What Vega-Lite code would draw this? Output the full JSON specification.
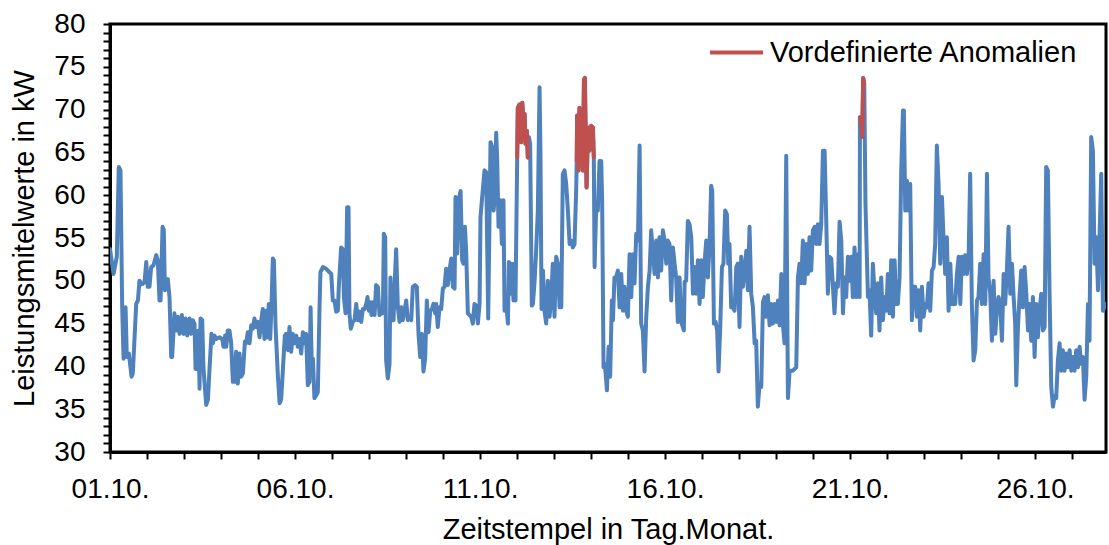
{
  "$schema": "https://vega.github.io/schema/vega-lite/v6.json",
  "width": 996,
  "height": 428,
  "autosize": {"type": "none"},
  "padding": {"left": 110, "top": 24, "right": 3, "bottom": 93},
  "background": "white",
  "config": {
    "view": {"stroke": "black", "strokeWidth": 3},
    "font": "Liberation Sans",
    "axis": {"grid": false, "domainColor": "black", "domainWidth": 3, "tickColor": "black", "tickWidth": 2, "tickSize": 7, "labelColor": "black", "titleColor": "black", "labelFont": "Liberation Sans", "titleFont": "Liberation Sans", "titleFontWeight": "normal"}
  },
  "datasets": {
    "messwerte": [
      {"Stunde":0,"kW":53.7},{"Stunde":2.3,"kW":50.8},{"Stunde":4.4,"kW":52.8},{"Stunde":5.7,"kW":63.3},{"Stunde":6.8,"kW":62.9},{"Stunde":7.9,"kW":46.9},{"Stunde":8.8,"kW":40.9},{"Stunde":10.1,"kW":46.9},{"Stunde":10.9,"kW":41.1},{"Stunde":12.2,"kW":41.5},{"Stunde":14.0,"kW":38.8},{"Stunde":14.8,"kW":39.2},{"Stunde":17.0,"kW":47.3},{"Stunde":18.1,"kW":47.7},{"Stunde":19.1,"kW":50.0},{"Stunde":20.9,"kW":49.6},{"Stunde":22.4,"kW":49.8},{"Stunde":23.5,"kW":52.2},{"Stunde":24.5,"kW":49.3},{"Stunde":25.6,"kW":49.3},{"Stunde":26.7,"kW":51.6},{"Stunde":28.2,"kW":51.8},{"Stunde":30.0,"kW":53.0},{"Stunde":31.0,"kW":52.4},{"Stunde":32.1,"kW":47.7},{"Stunde":32.8,"kW":47.7},{"Stunde":34.1,"kW":56.3},{"Stunde":34.9,"kW":55.9},{"Stunde":35.6,"kW":48.9},{"Stunde":36.4,"kW":49.3},{"Stunde":37.5,"kW":50.2},{"Stunde":38.6,"kW":48.1},{"Stunde":39.7,"kW":41.1},{"Stunde":40.3,"kW":41.1},{"Stunde":41.8,"kW":46.2},{"Stunde":42.9,"kW":44.2},{"Stunde":44.0,"kW":45.8},{"Stunde":45.1,"kW":43.8},{"Stunde":46.6,"kW":46.0},{"Stunde":47.7,"kW":43.8},{"Stunde":49.0,"kW":45.6},{"Stunde":50.1,"kW":43.6},{"Stunde":51.6,"kW":45.6},{"Stunde":52.6,"kW":43.8},{"Stunde":53.7,"kW":45.4},{"Stunde":54.8,"kW":45.0},{"Stunde":55.5,"kW":39.7},{"Stunde":56.3,"kW":39.7},{"Stunde":57.4,"kW":44.2},{"Stunde":58.1,"kW":37.4},{"Stunde":58.7,"kW":45.6},{"Stunde":59.8,"kW":45.4},{"Stunde":60.6,"kW":39.9},{"Stunde":62.4,"kW":35.5},{"Stunde":63.5,"kW":36.1},{"Stunde":64.5,"kW":39.5},{"Stunde":65.8,"kW":43.8},{"Stunde":66.7,"kW":42.7},{"Stunde":67.8,"kW":43.6},{"Stunde":68.9,"kW":43.2},{"Stunde":71.0,"kW":43.4},{"Stunde":72.8,"kW":43.2},{"Stunde":73.6,"kW":42.3},{"Stunde":74.7,"kW":43.6},{"Stunde":75.4,"kW":42.3},{"Stunde":76.4,"kW":44.2},{"Stunde":77.5,"kW":44.2},{"Stunde":78.6,"kW":42.7},{"Stunde":79.7,"kW":38.2},{"Stunde":80.8,"kW":38.2},{"Stunde":81.8,"kW":41.7},{"Stunde":82.9,"kW":38.0},{"Stunde":84.0,"kW":41.5},{"Stunde":85.1,"kW":38.8},{"Stunde":86.2,"kW":39.2},{"Stunde":87.5,"kW":42.9},{"Stunde":88.3,"kW":42.7},{"Stunde":89.4,"kW":44.0},{"Stunde":90.5,"kW":42.7},{"Stunde":91.6,"kW":44.8},{"Stunde":92.6,"kW":44.4},{"Stunde":93.7,"kW":45.6},{"Stunde":94.8,"kW":44.6},{"Stunde":95.9,"kW":45.2},{"Stunde":97.0,"kW":43.4},{"Stunde":98.1,"kW":45.4},{"Stunde":99.1,"kW":46.7},{"Stunde":100.2,"kW":43.2},{"Stunde":101.3,"kW":46.5},{"Stunde":102.0,"kW":43.4},{"Stunde":103.0,"kW":47.3},{"Stunde":103.9,"kW":43.2},{"Stunde":104.8,"kW":47.3},{"Stunde":105.6,"kW":52.6},{"Stunde":106.3,"kW":52.4},{"Stunde":107.4,"kW":44.6},{"Stunde":108.9,"kW":38.8},{"Stunde":110.0,"kW":35.7},{"Stunde":111.0,"kW":36.1},{"Stunde":112.1,"kW":39.5},{"Stunde":113.4,"kW":43.6},{"Stunde":114.3,"kW":43.8},{"Stunde":115.4,"kW":41.9},
      {"Stunde":116.4,"kW":44.6},{"Stunde":117.5,"kW":41.7},{"Stunde":118.6,"kW":43.8},{"Stunde":119.7,"kW":42.7},{"Stunde":120.8,"kW":43.6},{"Stunde":121.8,"kW":42.3},{"Stunde":122.9,"kW":43.2},{"Stunde":124.0,"kW":41.5},{"Stunde":125.1,"kW":44.0},{"Stunde":126.2,"kW":42.7},{"Stunde":127.2,"kW":43.8},{"Stunde":128.3,"kW":37.8},{"Stunde":129.4,"kW":38.2},{"Stunde":130.1,"kW":46.9},{"Stunde":130.9,"kW":39.7},{"Stunde":131.6,"kW":40.9},{"Stunde":132.6,"kW":36.3},{"Stunde":133.7,"kW":36.6},{"Stunde":134.8,"kW":37.0},{"Stunde":135.9,"kW":46.9},{"Stunde":136.5,"kW":51.0},{"Stunde":138.1,"kW":51.6},{"Stunde":140.2,"kW":51.4},{"Stunde":142.4,"kW":51.0},{"Stunde":143.5,"kW":50.8},{"Stunde":144.5,"kW":47.7},{"Stunde":145.6,"kW":47.7},{"Stunde":146.7,"kW":46.4},{"Stunde":147.8,"kW":46.5},{"Stunde":148.4,"kW":49.3},{"Stunde":149.9,"kW":53.9},{"Stunde":151.0,"kW":53.7},{"Stunde":151.7,"kW":48.1},{"Stunde":152.8,"kW":46.2},{"Stunde":153.8,"kW":58.6},{"Stunde":154.7,"kW":58.6},{"Stunde":155.3,"kW":46.2},{"Stunde":156.2,"kW":44.4},{"Stunde":157.5,"kW":45.2},{"Stunde":158.6,"kW":45.4},{"Stunde":159.7,"kW":47.3},{"Stunde":160.8,"kW":45.4},{"Stunde":161.8,"kW":46.4},{"Stunde":162.9,"kW":45.2},{"Stunde":164.0,"kW":46.7},{"Stunde":165.1,"kW":46.7},{"Stunde":166.2,"kW":47.3},{"Stunde":167.0,"kW":48.1},{"Stunde":167.9,"kW":46.5},{"Stunde":168.8,"kW":47.5},{"Stunde":169.6,"kW":46.0},{"Stunde":170.5,"kW":47.5},{"Stunde":171.6,"kW":46.0},{"Stunde":172.6,"kW":49.5},{"Stunde":173.7,"kW":49.3},{"Stunde":174.8,"kW":46.0},{"Stunde":175.9,"kW":46.2},{"Stunde":177.0,"kW":46.2},{"Stunde":177.6,"kW":55.5},{"Stunde":178.5,"kW":55.1},{"Stunde":179.1,"kW":40.7},{"Stunde":180.2,"kW":38.6},{"Stunde":181.3,"kW":40.3},{"Stunde":181.9,"kW":50.4},{"Stunde":182.8,"kW":45.4},{"Stunde":183.9,"kW":45.4},{"Stunde":184.8,"kW":50.4},{"Stunde":185.6,"kW":53.7},{"Stunde":186.7,"kW":46.9},{"Stunde":187.8,"kW":45.2},{"Stunde":188.9,"kW":46.9},{"Stunde":189.9,"kW":45.4},{"Stunde":191.0,"kW":46.5},{"Stunde":192.1,"kW":47.7},{"Stunde":193.2,"kW":45.4},{"Stunde":194.3,"kW":45.8},{"Stunde":195.4,"kW":45.4},{"Stunde":196.4,"kW":49.3},{"Stunde":197.9,"kW":49.5},{"Stunde":199.0,"kW":49.3},{"Stunde":200.1,"kW":43.8},{"Stunde":201.2,"kW":41.1},{"Stunde":202.3,"kW":43.8},{"Stunde":203.3,"kW":39.4},{"Stunde":204.4,"kW":40.9},{"Stunde":205.5,"kW":47.7},{"Stunde":206.6,"kW":44.0},{"Stunde":207.7,"kW":46.5},{"Stunde":208.8,"kW":46.7},{"Stunde":209.8,"kW":47.3},{"Stunde":210.9,"kW":46.2},{"Stunde":211.6,"kW":47.3},{"Stunde":212.6,"kW":44.6},{"Stunde":213.7,"kW":46.9},{"Stunde":214.8,"kW":46.7},{"Stunde":215.9,"kW":49.1},{"Stunde":217.0,"kW":49.3},{"Stunde":218.0,"kW":51.4},{"Stunde":219.1,"kW":49.5},{"Stunde":220.2,"kW":51.2},{"Stunde":221.3,"kW":52.6},{"Stunde":222.4,"kW":49.3},{"Stunde":223.5,"kW":49.1},{"Stunde":224.1,"kW":59.8},{"Stunde":225.2,"kW":53.2},{"Stunde":226.3,"kW":59.6},{"Stunde":227.4,"kW":60.5},{"Stunde":228.4,"kW":52.4},{"Stunde":229.3,"kW":52.0},{"Stunde":230.2,"kW":56.3},{"Stunde":231.0,"kW":53.5},{"Stunde":232.1,"kW":46.2},{"Stunde":233.2,"kW":46.0},{"Stunde":234.3,"kW":45.8},{"Stunde":235.3,"kW":45.0},{"Stunde":236.4,"kW":47.3},{"Stunde":237.5,"kW":47.1},{"Stunde":238.6,"kW":45.0},
      {"Stunde":239.7,"kW":47.3},{"Stunde":240.3,"kW":57.4},{"Stunde":241.4,"kW":59.8},{"Stunde":242.9,"kW":62.9},{"Stunde":244.0,"kW":62.7},{"Stunde":245.3,"kW":45.6},{"Stunde":246.8,"kW":66.2},{"Stunde":247.9,"kW":65.6},{"Stunde":248.8,"kW":58.2},{"Stunde":249.4,"kW":59.4},{"Stunde":250.5,"kW":67.3},{"Stunde":251.1,"kW":64.4},{"Stunde":252.0,"kW":56.3},{"Stunde":253.1,"kW":59.4},{"Stunde":254.2,"kW":54.3},{"Stunde":255.2,"kW":59.4},{"Stunde":255.9,"kW":46.5},{"Stunde":257.0,"kW":47.3},{"Stunde":258.1,"kW":45.0},{"Stunde":258.7,"kW":52.2},{"Stunde":259.8,"kW":48.5},{"Stunde":260.7,"kW":52.0},{"Stunde":261.7,"kW":47.7},{"Stunde":262.4,"kW":52.0},{"Stunde":263.0,"kW":47.7},{"Stunde":264.1,"kW":64.4},{"Stunde":264.5,"kW":70.2},{"Stunde":265.6,"kW":70.6},{"Stunde":266.7,"kW":66.2},{"Stunde":267.4,"kW":70.8},{"Stunde":268.2,"kW":68.7},{"Stunde":268.9,"kW":69.5},{"Stunde":269.5,"kW":66.0},{"Stunde":270.4,"kW":67.5},{"Stunde":271.0,"kW":64.4},{"Stunde":271.7,"kW":66.8},{"Stunde":272.5,"kW":66.0},{"Stunde":273.6,"kW":47.1},{"Stunde":274.3,"kW":47.3},{"Stunde":275.4,"kW":50.0},{"Stunde":276.4,"kW":53.5},{"Stunde":277.5,"kW":58.2},{"Stunde":278.6,"kW":72.6},{"Stunde":279.2,"kW":64.8},{"Stunde":279.9,"kW":46.7},{"Stunde":280.8,"kW":51.2},{"Stunde":281.8,"kW":46.5},{"Stunde":282.9,"kW":45.0},{"Stunde":284.0,"kW":50.0},{"Stunde":285.1,"kW":45.8},{"Stunde":286.2,"kW":48.1},{"Stunde":287.2,"kW":52.0},{"Stunde":288.3,"kW":45.8},{"Stunde":289.4,"kW":52.8},{"Stunde":290.5,"kW":52.0},{"Stunde":291.6,"kW":46.9},{"Stunde":292.7,"kW":46.9},{"Stunde":293.7,"kW":62.5},{"Stunde":294.8,"kW":62.9},{"Stunde":295.9,"kW":61.3},{"Stunde":297.0,"kW":58.2},{"Stunde":298.1,"kW":54.3},{"Stunde":299.1,"kW":54.7},{"Stunde":300.2,"kW":53.9},{"Stunde":301.3,"kW":54.3},{"Stunde":302.4,"kW":60.9},{"Stunde":302.7,"kW":64.0},{"Stunde":303.0,"kW":69.3},{"Stunde":303.9,"kW":62.9},{"Stunde":304.5,"kW":70.2},{"Stunde":305.2,"kW":64.4},{"Stunde":305.8,"kW":69.9},{"Stunde":306.7,"kW":62.9},{"Stunde":307.4,"kW":73.5},{"Stunde":308.0,"kW":73.7},{"Stunde":308.4,"kW":68.7},{"Stunde":309.1,"kW":60.9},{"Stunde":310.0,"kW":67.9},{"Stunde":311.0,"kW":65.2},{"Stunde":312.1,"kW":68.1},{"Stunde":313.2,"kW":67.9},{"Stunde":313.8,"kW":64.4},{"Stunde":314.3,"kW":51.6},{"Stunde":315.4,"kW":59.0},{"Stunde":316.4,"kW":58.2},{"Stunde":317.5,"kW":64.0},{"Stunde":318.6,"kW":64.0},{"Stunde":319.2,"kW":59.4},{"Stunde":320.1,"kW":39.9},{"Stunde":321.0,"kW":40.3},{"Stunde":322.3,"kW":37.2},{"Stunde":323.4,"kW":42.3},{"Stunde":324.4,"kW":38.8},{"Stunde":325.5,"kW":47.7},{"Stunde":326.2,"kW":45.4},{"Stunde":327.2,"kW":50.4},{"Stunde":328.3,"kW":50.4},{"Stunde":329.4,"kW":51.2},{"Stunde":330.5,"kW":46.9},{"Stunde":331.6,"kW":50.8},{"Stunde":332.7,"kW":46.5},{"Stunde":333.7,"kW":49.3},{"Stunde":334.8,"kW":46.5},{"Stunde":335.9,"kW":45.8},{"Stunde":337.0,"kW":53.1},{"Stunde":338.1,"kW":48.1},{"Stunde":339.1,"kW":53.1},{"Stunde":340.2,"kW":49.7},{"Stunde":341.3,"kW":55.5},{"Stunde":342.4,"kW":54.7},{"Stunde":343.5,"kW":65.8},{"Stunde":344.5,"kW":45.0},{"Stunde":345.6,"kW":44.2},{"Stunde":346.7,"kW":39.4},{"Stunde":347.8,"kW":45.8},{"Stunde":348.9,"kW":49.3},{"Stunde":350.0,"kW":51.2},{"Stunde":351.0,"kW":55.9},{"Stunde":352.1,"kW":53.5},{"Stunde":353.2,"kW":50.8},{"Stunde":354.3,"kW":54.7},{"Stunde":355.4,"kW":50.4},{"Stunde":356.4,"kW":55.1},{"Stunde":357.5,"kW":51.2},{"Stunde":358.6,"kW":55.9},{"Stunde":359.7,"kW":54.7},{"Stunde":360.8,"kW":52.0},{"Stunde":361.8,"kW":54.7},
      {"Stunde":362.9,"kW":54.3},{"Stunde":364.0,"kW":47.7},{"Stunde":365.1,"kW":53.9},{"Stunde":366.2,"kW":52.0},{"Stunde":367.2,"kW":50.4},{"Stunde":368.3,"kW":45.2},{"Stunde":369.4,"kW":50.4},{"Stunde":370.5,"kW":45.2},{"Stunde":372.2,"kW":44.2},{"Stunde":372.7,"kW":49.9},{"Stunde":373.7,"kW":50.0},{"Stunde":374.8,"kW":57.0},{"Stunde":375.9,"kW":56.6},{"Stunde":377.0,"kW":55.1},{"Stunde":378.1,"kW":48.5},{"Stunde":379.1,"kW":51.6},{"Stunde":380.2,"kW":48.5},{"Stunde":381.3,"kW":52.4},{"Stunde":382.4,"kW":47.3},{"Stunde":383.5,"kW":52.4},{"Stunde":384.5,"kW":48.1},{"Stunde":385.6,"kW":52.0},{"Stunde":386.7,"kW":54.7},{"Stunde":387.8,"kW":50.4},{"Stunde":388.9,"kW":54.3},{"Stunde":389.9,"kW":61.1},{"Stunde":390.6,"kW":60.5},{"Stunde":391.7,"kW":45.0},{"Stunde":392.8,"kW":45.2},{"Stunde":393.8,"kW":44.2},{"Stunde":394.7,"kW":39.4},{"Stunde":395.8,"kW":44.6},{"Stunde":396.9,"kW":51.6},{"Stunde":397.9,"kW":52.0},{"Stunde":399.0,"kW":58.2},{"Stunde":400.1,"kW":57.8},{"Stunde":401.0,"kW":52.0},{"Stunde":401.8,"kW":54.3},{"Stunde":402.9,"kW":46.9},{"Stunde":404.0,"kW":46.9},{"Stunde":405.1,"kW":46.5},{"Stunde":406.2,"kW":51.6},{"Stunde":407.2,"kW":52.0},{"Stunde":408.3,"kW":44.6},{"Stunde":409.4,"kW":52.8},{"Stunde":410.5,"kW":49.3},{"Stunde":411.6,"kW":51.2},{"Stunde":412.7,"kW":53.5},{"Stunde":413.7,"kW":48.9},{"Stunde":414.8,"kW":56.3},{"Stunde":415.9,"kW":48.5},{"Stunde":417.0,"kW":46.9},{"Stunde":418.1,"kW":42.7},{"Stunde":419.1,"kW":43.0},{"Stunde":420.2,"kW":35.3},{"Stunde":421.3,"kW":38.0},{"Stunde":422.4,"kW":37.6},{"Stunde":423.5,"kW":47.5},{"Stunde":424.5,"kW":48.1},{"Stunde":425.6,"kW":45.8},{"Stunde":426.7,"kW":48.3},{"Stunde":427.8,"kW":44.8},{"Stunde":428.9,"kW":47.3},{"Stunde":429.9,"kW":45.0},{"Stunde":431.0,"kW":47.3},{"Stunde":432.1,"kW":45.2},{"Stunde":433.2,"kW":47.7},{"Stunde":434.3,"kW":44.8},{"Stunde":435.4,"kW":50.8},{"Stunde":436.4,"kW":45.0},{"Stunde":437.5,"kW":42.7},{"Stunde":438.6,"kW":64.6},{"Stunde":439.7,"kW":36.3},{"Stunde":440.8,"kW":39.5},{"Stunde":442.9,"kW":39.5},{"Stunde":445.1,"kW":39.9},{"Stunde":446.2,"kW":50.4},{"Stunde":447.2,"kW":52.0},{"Stunde":448.3,"kW":49.7},{"Stunde":449.4,"kW":54.7},{"Stunde":450.5,"kW":49.7},{"Stunde":451.6,"kW":54.3},{"Stunde":452.6,"kW":50.8},{"Stunde":453.7,"kW":55.1},{"Stunde":454.8,"kW":51.2},{"Stunde":455.9,"kW":55.9},{"Stunde":457.0,"kW":56.3},{"Stunde":458.1,"kW":54.3},{"Stunde":459.1,"kW":56.6},{"Stunde":460.2,"kW":54.3},{"Stunde":461.3,"kW":56.6},{"Stunde":462.4,"kW":65.2},{"Stunde":463.5,"kW":65.2},{"Stunde":464.5,"kW":57.4},{"Stunde":465.6,"kW":48.5},{"Stunde":466.7,"kW":52.8},{"Stunde":467.8,"kW":52.6},{"Stunde":468.9,"kW":49.3},{"Stunde":469.9,"kW":46.2},{"Stunde":471.0,"kW":49.7},{"Stunde":472.1,"kW":49.3},{"Stunde":473.2,"kW":56.9},{"Stunde":474.3,"kW":54.7},{"Stunde":475.4,"kW":46.2},{"Stunde":476.4,"kW":50.4},{"Stunde":477.5,"kW":48.1},{"Stunde":478.6,"kW":52.8},{"Stunde":479.7,"kW":50.0},{"Stunde":480.8,"kW":52.8},{"Stunde":481.8,"kW":48.1},{"Stunde":482.9,"kW":53.9},{"Stunde":484.0,"kW":48.1},{"Stunde":485.1,"kW":53.1},{"Stunde":486.2,"kW":48.1},
      {"Stunde":486.4,"kW":69.1},{"Stunde":487.2,"kW":68.7},{"Stunde":487.9,"kW":66.8},{"Stunde":488.5,"kW":73.7},{"Stunde":489.2,"kW":73.0},{"Stunde":490.0,"kW":59.0},{"Stunde":491.6,"kW":48.1},{"Stunde":492.6,"kW":48.9},{"Stunde":493.7,"kW":43.6},{"Stunde":494.8,"kW":52.0},{"Stunde":495.9,"kW":48.5},{"Stunde":497.0,"kW":46.2},{"Stunde":498.0,"kW":49.7},{"Stunde":499.1,"kW":44.2},{"Stunde":500.2,"kW":50.4},{"Stunde":501.3,"kW":45.4},{"Stunde":502.4,"kW":48.1},{"Stunde":503.5,"kW":46.5},{"Stunde":504.5,"kW":50.8},{"Stunde":505.6,"kW":46.2},{"Stunde":506.7,"kW":52.4},{"Stunde":507.8,"kW":45.8},{"Stunde":508.9,"kW":52.4},{"Stunde":509.9,"kW":47.3},{"Stunde":511.0,"kW":47.3},{"Stunde":512.1,"kW":50.4},{"Stunde":513.2,"kW":62.9},{"Stunde":514.3,"kW":69.9},{"Stunde":514.9,"kW":69.9},{"Stunde":515.8,"kW":58.2},{"Stunde":516.9,"kW":61.7},{"Stunde":517.9,"kW":58.2},{"Stunde":519.0,"kW":61.3},{"Stunde":520.1,"kW":45.4},{"Stunde":521.2,"kW":49.3},{"Stunde":522.3,"kW":49.3},{"Stunde":523.4,"kW":45.8},{"Stunde":524.4,"kW":48.9},{"Stunde":525.5,"kW":44.2},{"Stunde":526.6,"kW":49.3},{"Stunde":527.7,"kW":45.8},{"Stunde":528.8,"kW":47.3},{"Stunde":529.8,"kW":46.9},{"Stunde":530.9,"kW":49.7},{"Stunde":532.0,"kW":46.5},{"Stunde":533.1,"kW":51.2},{"Stunde":534.2,"kW":51.6},{"Stunde":535.2,"kW":54.3},{"Stunde":536.3,"kW":65.8},{"Stunde":537.4,"kW":61.3},{"Stunde":538.5,"kW":52.0},{"Stunde":539.6,"kW":59.8},{"Stunde":540.6,"kW":55.1},{"Stunde":541.7,"kW":50.8},{"Stunde":542.8,"kW":55.1},{"Stunde":543.9,"kW":46.5},{"Stunde":545.0,"kW":52.0},{"Stunde":546.1,"kW":47.3},{"Stunde":547.1,"kW":47.3},{"Stunde":548.2,"kW":47.3},{"Stunde":549.3,"kW":50.8},{"Stunde":550.4,"kW":52.8},{"Stunde":551.5,"kW":47.3},{"Stunde":552.5,"kW":52.8},{"Stunde":553.6,"kW":50.8},{"Stunde":554.7,"kW":53.0},{"Stunde":555.8,"kW":50.8},{"Stunde":556.9,"kW":52.8},{"Stunde":557.9,"kW":62.5},{"Stunde":559.0,"kW":47.3},{"Stunde":560.1,"kW":40.7},{"Stunde":561.2,"kW":41.9},{"Stunde":562.3,"kW":47.7},{"Stunde":563.3,"kW":48.1},{"Stunde":564.4,"kW":52.0},{"Stunde":565.5,"kW":47.3},{"Stunde":566.6,"kW":53.1},{"Stunde":567.7,"kW":47.3},{"Stunde":568.8,"kW":62.5},{"Stunde":569.8,"kW":50.4},{"Stunde":570.9,"kW":48.5},{"Stunde":572.0,"kW":43.0},{"Stunde":573.1,"kW":50.0},{"Stunde":574.2,"kW":43.8},{"Stunde":575.2,"kW":46.5},{"Stunde":576.3,"kW":48.1},{"Stunde":577.4,"kW":47.3},{"Stunde":578.5,"kW":43.0},{"Stunde":579.6,"kW":50.8},{"Stunde":580.6,"kW":47.3},{"Stunde":581.7,"kW":51.2},{"Stunde":582.8,"kW":56.3},{"Stunde":583.9,"kW":48.5},{"Stunde":585.0,"kW":52.0},{"Stunde":586.1,"kW":48.1},{"Stunde":587.1,"kW":45.0},{"Stunde":587.8,"kW":37.8},{"Stunde":588.9,"kW":44.6},{"Stunde":589.9,"kW":48.1},{"Stunde":591.0,"kW":51.2},{"Stunde":592.1,"kW":46.9},{"Stunde":593.2,"kW":51.6},{"Stunde":594.3,"kW":48.5},{"Stunde":595.4,"kW":44.2},{"Stunde":596.4,"kW":47.3},{"Stunde":597.5,"kW":43.0},{"Stunde":598.6,"kW":48.1},{"Stunde":599.7,"kW":41.1},{"Stunde":600.8,"kW":47.3},{"Stunde":601.8,"kW":43.4},{"Stunde":602.9,"kW":46.5},{"Stunde":604.0,"kW":48.5},{"Stunde":605.1,"kW":44.2},{"Stunde":606.2,"kW":44.6},{"Stunde":607.2,"kW":63.3},{"Stunde":608.3,"kW":62.9},{"Stunde":609.4,"kW":48.5},{"Stunde":610.5,"kW":37.6},{"Stunde":611.6,"kW":35.3},{"Stunde":612.6,"kW":36.5},{"Stunde":613.7,"kW":36.3},{"Stunde":614.8,"kW":40.7},{"Stunde":615.9,"kW":42.7},{"Stunde":617.0,"kW":39.5},{"Stunde":618.0,"kW":41.9},{"Stunde":619.1,"kW":39.5},{"Stunde":620.2,"kW":41.5},{"Stunde":621.3,"kW":39.9},{"Stunde":622.4,"kW":41.9},{"Stunde":623.5,"kW":39.5},{"Stunde":624.5,"kW":41.1},{"Stunde":625.6,"kW":39.5},{"Stunde":626.7,"kW":41.9},{"Stunde":627.8,"kW":39.9},{"Stunde":628.9,"kW":42.3},{"Stunde":629.9,"kW":40.3},{"Stunde":631.0,"kW":41.1},{"Stunde":632.1,"kW":36.1},{"Stunde":633.2,"kW":38.8},{"Stunde":634.3,"kW":47.3},{"Stunde":635.3,"kW":43.0},{"Stunde":636.4,"kW":66.8},{"Stunde":637.5,"kW":65.2},{"Stunde":638.6,"kW":52.0},{"Stunde":639.7,"kW":55.1},{"Stunde":640.8,"kW":48.9},{"Stunde":641.8,"kW":55.1},{"Stunde":642.9,"kW":62.5},{"Stunde":644.0,"kW":46.5},{"Stunde":645.7,"kW":47.3}
    ],
    "anomalien": [
      {"Stunde":264.1,"kW":64.4,"Abschnitt":1,"Serie":"Vordefinierte Anomalien"},{"Stunde":264.5,"kW":70.2,"Abschnitt":1,"Serie":"Vordefinierte Anomalien"},{"Stunde":265.6,"kW":70.6,"Abschnitt":1,"Serie":"Vordefinierte Anomalien"},{"Stunde":266.7,"kW":66.2,"Abschnitt":1,"Serie":"Vordefinierte Anomalien"},{"Stunde":267.4,"kW":70.8,"Abschnitt":1,"Serie":"Vordefinierte Anomalien"},{"Stunde":268.2,"kW":68.7,"Abschnitt":1,"Serie":"Vordefinierte Anomalien"},{"Stunde":268.9,"kW":69.5,"Abschnitt":1,"Serie":"Vordefinierte Anomalien"},{"Stunde":269.5,"kW":66.0,"Abschnitt":1,"Serie":"Vordefinierte Anomalien"},{"Stunde":270.4,"kW":67.5,"Abschnitt":1,"Serie":"Vordefinierte Anomalien"},{"Stunde":271.0,"kW":64.4,"Abschnitt":1,"Serie":"Vordefinierte Anomalien"},
      {"Stunde":302.7,"kW":64.0,"Abschnitt":2,"Serie":"Vordefinierte Anomalien"},{"Stunde":303.0,"kW":69.3,"Abschnitt":2,"Serie":"Vordefinierte Anomalien"},{"Stunde":303.9,"kW":62.9,"Abschnitt":2,"Serie":"Vordefinierte Anomalien"},{"Stunde":304.5,"kW":70.2,"Abschnitt":2,"Serie":"Vordefinierte Anomalien"},{"Stunde":305.2,"kW":64.4,"Abschnitt":2,"Serie":"Vordefinierte Anomalien"},{"Stunde":305.8,"kW":69.9,"Abschnitt":2,"Serie":"Vordefinierte Anomalien"},{"Stunde":306.7,"kW":62.9,"Abschnitt":2,"Serie":"Vordefinierte Anomalien"},{"Stunde":307.4,"kW":73.5,"Abschnitt":2,"Serie":"Vordefinierte Anomalien"},{"Stunde":308.0,"kW":73.7,"Abschnitt":2,"Serie":"Vordefinierte Anomalien"},{"Stunde":308.4,"kW":68.7,"Abschnitt":2,"Serie":"Vordefinierte Anomalien"},{"Stunde":309.1,"kW":60.9,"Abschnitt":2,"Serie":"Vordefinierte Anomalien"},{"Stunde":310.0,"kW":67.9,"Abschnitt":2,"Serie":"Vordefinierte Anomalien"},{"Stunde":311.0,"kW":65.2,"Abschnitt":2,"Serie":"Vordefinierte Anomalien"},{"Stunde":312.1,"kW":68.1,"Abschnitt":2,"Serie":"Vordefinierte Anomalien"},{"Stunde":313.2,"kW":67.9,"Abschnitt":2,"Serie":"Vordefinierte Anomalien"},{"Stunde":313.8,"kW":64.4,"Abschnitt":2,"Serie":"Vordefinierte Anomalien"},
      {"Stunde":486.4,"kW":69.1,"Abschnitt":3,"Serie":"Vordefinierte Anomalien"},{"Stunde":487.2,"kW":68.7,"Abschnitt":3,"Serie":"Vordefinierte Anomalien"},{"Stunde":487.9,"kW":66.8,"Abschnitt":3,"Serie":"Vordefinierte Anomalien"},{"Stunde":488.5,"kW":73.7,"Abschnitt":3,"Serie":"Vordefinierte Anomalien"},{"Stunde":489.2,"kW":73.0,"Abschnitt":3,"Serie":"Vordefinierte Anomalien"}
    ]
  },
  "layer": [
    {
      "data": {"name": "messwerte"},
      "mark": {"type": "line", "color": "#4F81BD", "strokeWidth": 4, "strokeJoin": "round", "strokeCap": "round", "clip": true},
      "encoding": {
        "x": {
          "field": "Stunde", "type": "quantitative",
          "scale": {"domain": [0, 646], "nice": false, "zero": false},
          "axis": {
            "title": "Zeitstempel in Tag.Monat.",
            "values": [0,24,48,72,96,120,144,168,192,216,240,264,288,312,336,360,384,408,432,456,480,504,528,552,576,600,624],
            "tickCount": 1000,
            "labelExpr": "datum.value % 120 === 0 ? ((datum.value/24+1) < 10 ? '0' : '') + (datum.value/24+1) + '.10.' : ''",
            "labelFontSize": 28, "labelPadding": 16, "labelOverlap": false, "labelFlush": false, "labelBound": false,
            "titleFontSize": 29, "titleBaseline": "alphabetic", "titleX": 498, "titleY": 86, "titleAnchor": "middle"
          }
        },
        "y": {
          "field": "kW", "type": "quantitative",
          "scale": {"domain": [30, 80], "nice": false, "zero": false},
          "axis": {
            "title": "Leistungsmitelwerte in kW",
            "values": [30,31,32,33,34,35,36,37,38,39,40,41,42,43,44,45,46,47,48,49,50,51,52,53,54,55,56,57,58,59,60,61,62,63,64,65,66,67,68,69,70,71,72,73,74,75,76,77,78,79,80],
            "tickCount": 1000,
            "format": "d",
            "labelExpr": "datum.value % 5 === 0 ? datum.label : ''",
            "labelFontSize": 28, "labelPadding": 18, "labelOverlap": false, "labelBound": false, "labelFlush": false,
            "titleFontSize": 29, "titleBaseline": "alphabetic", "titleAngle": 270, "titleX": -77, "titleY": 214, "titleAnchor": "middle"
          }
        }
      }
    },
    {
      "data": {"name": "anomalien"},
      "mark": {"type": "line", "strokeWidth": 4, "strokeJoin": "round", "strokeCap": "round", "clip": true},
      "encoding": {
        "x": {"field": "Stunde", "type": "quantitative"},
        "y": {"field": "kW", "type": "quantitative"},
        "detail": {"field": "Abschnitt", "type": "nominal"},
        "color": {
          "field": "Serie", "type": "nominal",
          "scale": {"domain": ["Vordefinierte Anomalien"], "range": ["#C0504D"]},
          "legend": {
            "title": null, "orient": "none", "legendX": 598, "legendY": 0, "padding": 0,
            "symbolType": "stroke", "symbolSize": 2809, "symbolStrokeWidth": 4, "symbolStrokeColor": "#C0504D",
            "labelFontSize": 29, "labelFont": "Liberation Sans", "labelColor": "black", "labelOffset": 5, "labelLimit": 600
          }
        }
      }
    }
  ]
}
